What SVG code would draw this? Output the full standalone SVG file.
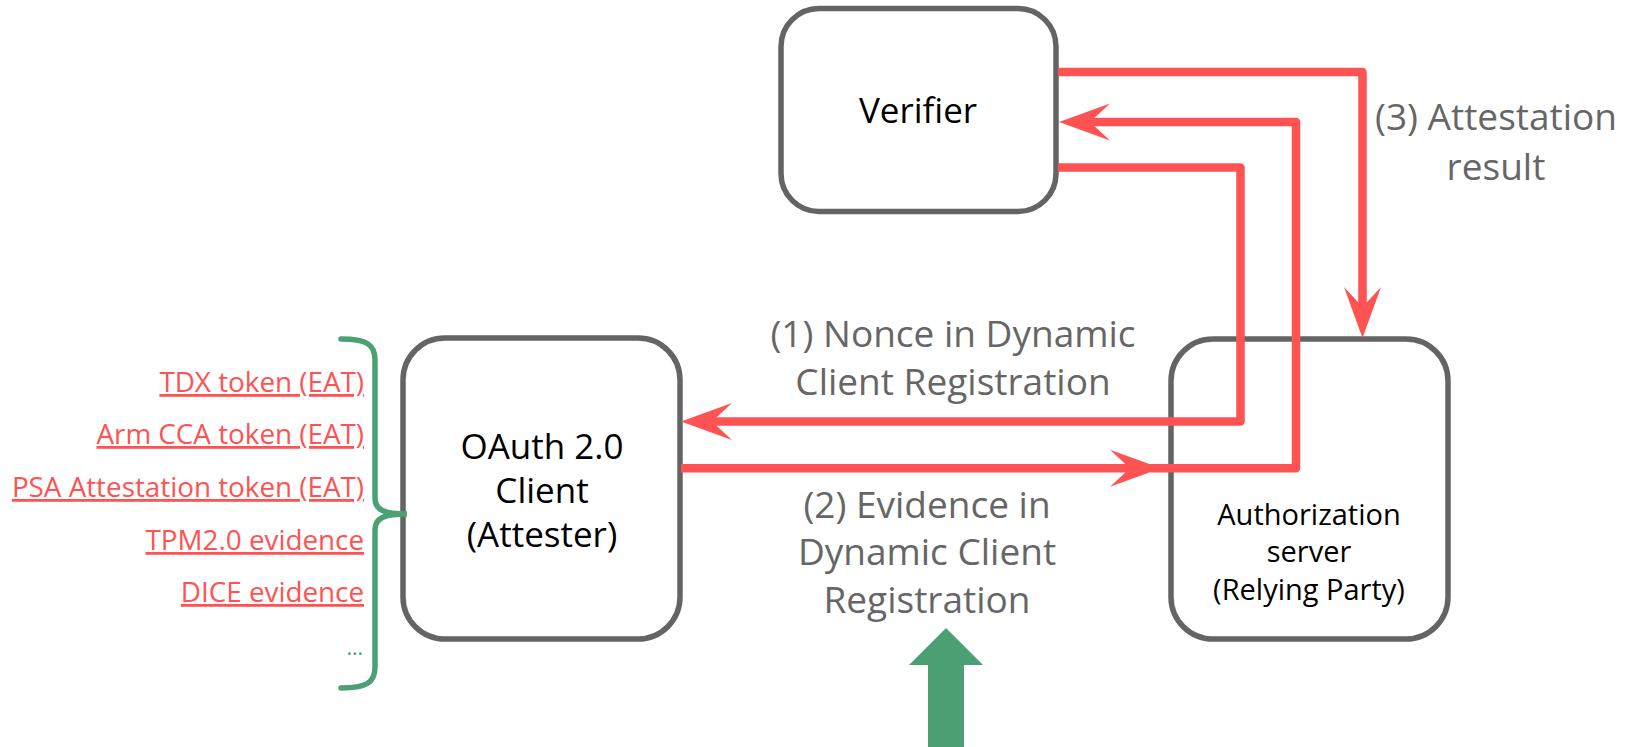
<svg xmlns="http://www.w3.org/2000/svg" width="1628" height="747" viewBox="0 0 1628 747">
  <style>
    text { font-family: "Open Sans", "Liberation Sans", sans-serif; }
    .box { fill: #ffffff; stroke: #646464; stroke-width: 5.5; }
    .node-label { fill: #000000; font-size: 35px; text-anchor: middle; }
    .node-label-small { fill: #000000; font-size: 29px; text-anchor: middle; }
    .edge { fill: none; stroke: #ff5252; stroke-width: 8.5; stroke-linejoin: round; }
    .edge-label { fill: #666666; font-size: 37px; text-anchor: middle; }
    .evidence { fill: #ff5252; font-size: 27.8px; text-anchor: end; text-decoration: underline; text-decoration-thickness: 2.5px; }
    .green { fill: #4ba174; }
  </style>
  <defs>
    <!-- notched arrowhead; the reference point sits at the notch so the shaft ends inside it -->
    <marker id="arrow" markerUnits="userSpaceOnUse" viewBox="-52 -19 52 38" refX="-30" refY="0" markerWidth="52" markerHeight="38" orient="auto" overflow="visible">
      <path d="M0,0 L-51,-18.5 L-31,0 L-51,18.5 Z" fill="#ff5252"/>
    </marker>
  </defs>

  <!-- nodes -->
  <g id="verifier">
    <rect class="box" x="781" y="8.5" width="275" height="203" rx="38"/>
    <text class="node-label" x="918" y="123">Verifier</text>
  </g>

  <g id="client">
    <rect class="box" x="403" y="338" width="277" height="301" rx="42"/>
    <text class="node-label" x="542" y="459">OAuth 2.0</text>
    <text class="node-label" x="542" y="503">Client</text>
    <text class="node-label" x="542" y="547">(Attester)</text>
  </g>

  <g id="authorization-server">
    <rect class="box" x="1171" y="339" width="277" height="300" rx="42"/>
    <text class="node-label-small" x="1309" y="525">Authorization</text>
    <text class="node-label-small" x="1309" y="562">server</text>
    <text class="node-label-small" x="1309" y="600">(Relying Party)</text>
  </g>

  <!-- evidence formats grouped by a brace -->
  <g id="evidence-formats">
    <text class="evidence" x="364" y="392">TDX token (EAT)</text>
    <text class="evidence" x="364" y="444">Arm CCA token (EAT)</text>
    <text class="evidence" x="364" y="497">PSA Attestation token (EAT)</text>
    <text class="evidence" x="364" y="550">TPM2.0 evidence</text>
    <text class="evidence" x="364" y="602">DICE evidence</text>
    <text class="green" x="363" y="655" font-size="21" text-anchor="end">...</text>
    <path d="M341,339 C366,339 375,344 375,360 L375,498 C375,510 384,514 407,514 C384,514 375,518 375,530 L375,667 C375,683 366,688 341,688" fill="none" stroke="#4ba174" stroke-width="5.5" stroke-linecap="round"/>
  </g>

  <!-- connectors -->
  <g id="connectors">
    <!-- (3) attestation result: verifier to authorization server -->
    <path class="edge" d="M1058,72 H1362.5 V308" marker-end="url(#arrow)"/>
    <!-- (1) nonce: verifier to client -->
    <path class="edge" d="M1058,167.5 H1240.5 V421.5 H711" marker-end="url(#arrow)"/>
    <!-- (2) evidence: client to authorization server -->
    <path class="edge" d="M681,468.3 H1131" marker-end="url(#arrow)"/>
    <!-- evidence forwarded from authorization server to verifier -->
    <path class="edge" d="M1150,468.3 H1296 V122 H1089" marker-end="url(#arrow)"/>
  </g>

  <g id="edge-labels">
    <text class="edge-label" x="1496" y="130">(3) Attestation</text>
    <text class="edge-label" x="1496" y="180">result</text>
    <text class="edge-label" x="953" y="347">(1) Nonce in Dynamic</text>
    <text class="edge-label" x="953" y="395">Client Registration</text>
    <text class="edge-label" x="927" y="518">(2) Evidence in</text>
    <text class="edge-label" x="927" y="565">Dynamic Client</text>
    <text class="edge-label" x="927" y="613">Registration</text>
  </g>

  <!-- incoming registration arrow -->
  <g id="registration-arrow">
    <polygon class="green" points="946,628 983,665 964,665 964,747 928,747 928,665 909,665"/>
  </g>
</svg>
